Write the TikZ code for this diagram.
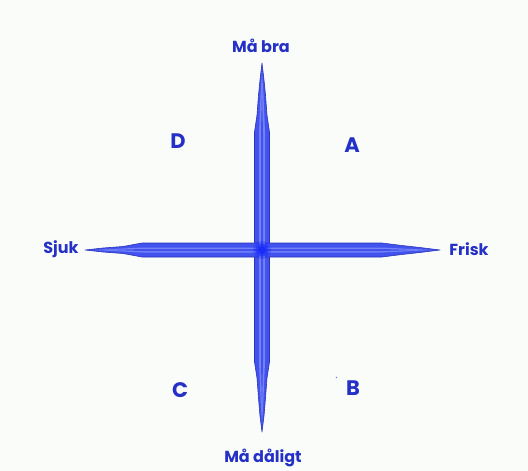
\documentclass[tikz,border=0pt]{standalone}
\usepackage{fontspec}
\setmainfont{Poppins}
\begin{document}
\begin{tikzpicture}[x=1pt,y=-1pt,
  lbl/.style={font=\fontsize{16}{18}\selectfont\bfseries, text=txtblue, inner sep=0pt},
  quad/.style={font=\fontsize{21}{24}\selectfont\bfseries, text=txtblue, inner sep=0pt},
  armfill/.style={fill=armblue, draw=armedge, line width=0.6pt, line join=round},
  armin/.style={fill=armlight}]
\definecolor{txtblue}{HTML}{2430C6}
\definecolor{armblue}{HTML}{4152EE}
\definecolor{armedge}{HTML}{2A34B8}
\definecolor{armlight}{HTML}{7482F6}
\definecolor{core}{HTML}{1A2CF8}
\definecolor{bg}{HTML}{FAFCFA}
\useasboundingbox (0,0) rectangle (528,471);
\fill[bg] (0,0) rectangle (528,471);
% coordinates
\coordinate (c) at (262,250);
% vertical arm
\path[armfill] (262,63) -- (264,80) -- (265.5,95) -- (267,115) -- (269.5,132) -- (269.5,362)
  -- (267,378) -- (265.5,398) -- (264,416) -- (262,432) -- (260,416) -- (258.5,398) -- (257,378)
  -- (254.5,362) -- (254.5,132) -- (257,115) -- (258.5,95) -- (260,80) -- cycle;
% horizontal arm
\path[armfill] (85,250) -- (103,248) -- (123,246.5) -- (142,243) -- (382,243) -- (402,245.5)
  -- (420,247.5) -- (440,250) -- (420,252.5) -- (402,254.5) -- (382,257) -- (142,257)
  -- (123,253.5) -- (103,252) -- cycle;
% lighter inner stripes
\fill[armin] (262,72) -- (263.5,95) -- (265,132) -- (265,362) -- (263.5,398) -- (262,424)
  -- (260.5,398) -- (259,362) -- (259,132) -- (260.5,95) -- cycle;
\fill[armin] (95,250) -- (123,248.5) -- (142,247.5) -- (382,247.5) -- (402,248.5) -- (432,250)
  -- (402,251.5) -- (382,252.5) -- (142,252.5) -- (123,251.5) -- cycle;
% inner darker core
\fill[armblue] (262,90) -- (263,132) -- (263,362) -- (262,410) -- (261,362) -- (261,132) -- cycle;
\fill[armblue] (110,250) -- (142,249) -- (382,249) -- (415,250) -- (382,251) -- (142,251) -- cycle;
% centre glow
\fill[core, opacity=0.35] (c) circle (9);
\fill[core, opacity=0.6] (c) circle (6.5);
\fill[core] (c) circle (4);
% labels
\node[lbl] (top) at (261,46) {Må bra};
\node[lbl] (bottom) at (263,458) {Må dåligt};
\node[lbl] (left) at (61,249) {Sjuk};
\node[lbl] (right) at (469,249) {Frisk};
\node[quad] (qD) at (178,141) {D};
\node[quad] (qA) at (352,145) {A};
\node[quad] (qC) at (180,390) {C};
\node[quad] (qB) at (353,388) {B};
\fill[txtblue!60] (336.5,377.5) circle (0.8);
\end{tikzpicture}
\end{document}
